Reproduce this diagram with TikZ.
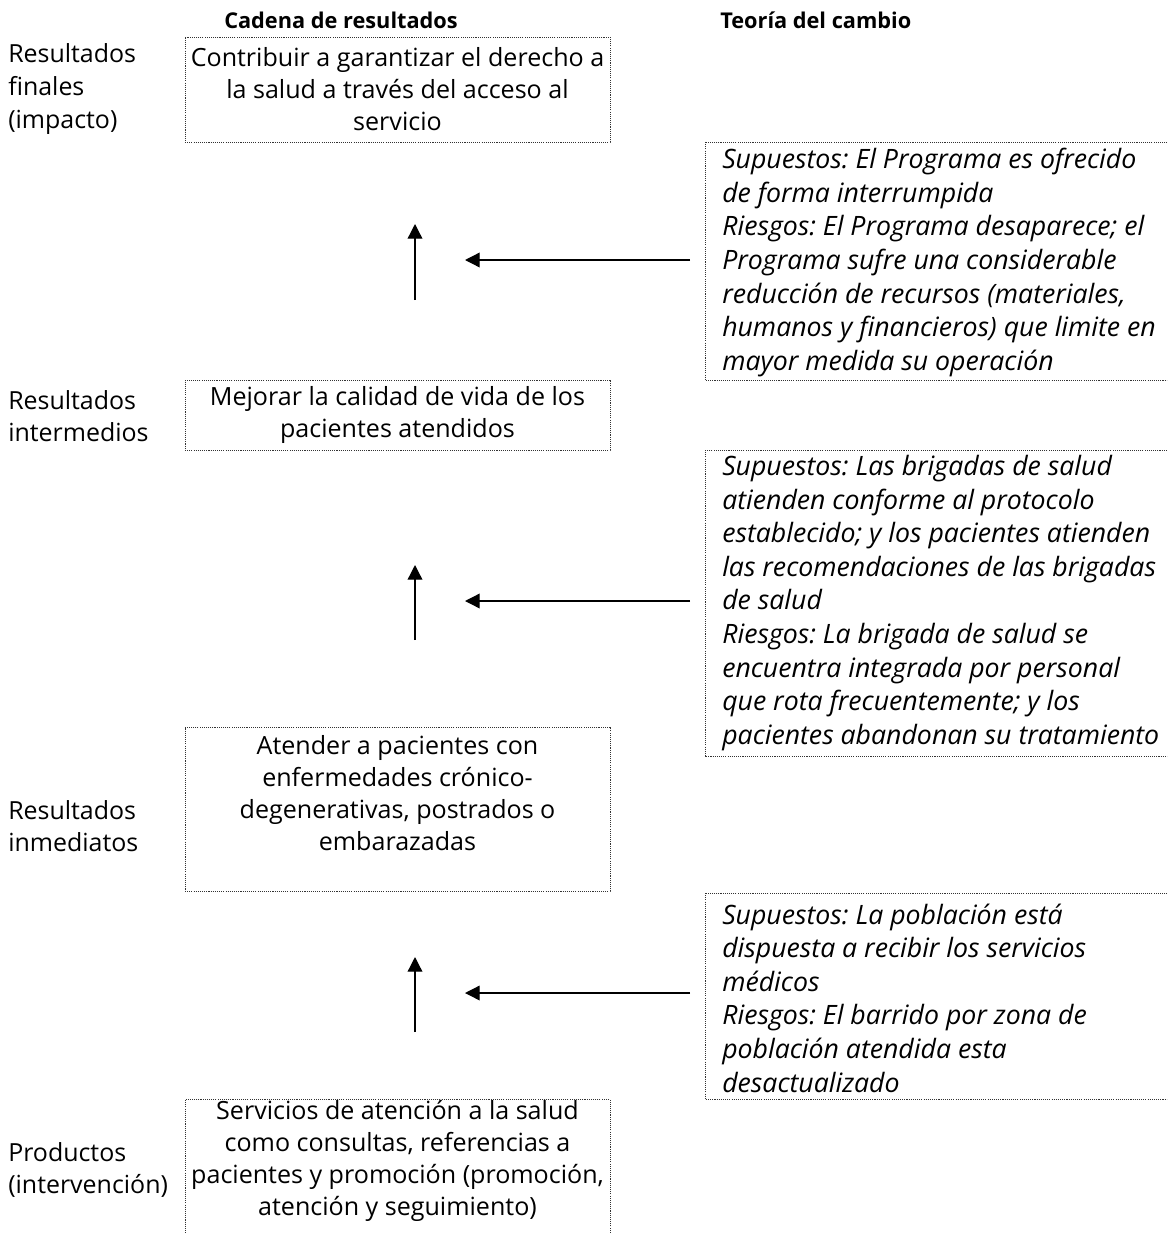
\documentclass[tikz,border=0pt]{standalone}
\usepackage{fontspec}
\setmainfont{Open Sans}
\usetikzlibrary{arrows.meta}
\tikzset{
  frame/.style={draw=black!80, line width=0.7pt, dash pattern=on 0.8pt off 0.8pt,
    inner sep=0pt, minimum width=425*0.75pt},
  chain/.style={align=center, font=\fontsize{18.8pt}{24pt}\selectfont},
  label/.style={align=left, anchor=west, inner sep=0pt,
    font=\fontsize{18.7pt}{24.5pt}\selectfont},
  theory/.style={align=left, anchor=west, inner sep=0pt,
    font=\fontsize{20pt}{25.2pt}\selectfont\itshape},
  head/.style={anchor=west, inner sep=0pt, font=\fontsize{16.3pt}{24pt}\selectfont\bfseries},
  arr/.style={line width=1pt, -{Triangle[length=11pt, width=11pt]}}
}
\frenchspacing
\begin{document}
\begin{tikzpicture}[x=0.75pt, y=-0.75pt]
\useasboundingbox (0,0) rectangle (1167,1234);
\clip (0,0) rectangle (1167,1234);

% column headings
\node[head] (h1) at (224,20) {Cadena de resultados};
\node[head] (h2) at (720,20) {Teoría del cambio};

% level labels
\node[label] (l1) at (8,89) {Resultados\\finales\\(impacto)};
\node[label] (l2) at (8,416) {Resultados\\intermedios};
\node[label] (l3) at (8,826) {Resultados\\inmediatos};
\node[label] (l4) at (8,1170) {Productos\\(intervención)};

% results chain
\node[frame, chain, minimum height=105*0.75pt] (b1) at (397.5,89.5)
  {Contribuir a garantizar el derecho a\\la salud a través del acceso al\\servicio};
\node[frame, chain, minimum height=70*0.75pt] (b2) at (397.5,415)
  {Mejorar la calidad de vida de los\\pacientes atendidos};
\node[frame, chain, minimum height=164*0.75pt] (b3) at (397.5,809)
  {Atender a pacientes con\\enfermedades crónico-\\degenerativas, postrados o\\embarazadas\\\mbox{}};
\node[frame, minimum height=150*0.75pt, anchor=north] (b4) at (397.5,1099) {};
\node[chain, inner sep=0pt] (t4) at (397.5,1161)
  {Servicios de atención a la salud\\como consultas, referencias a\\pacientes y promoción (promoción,\\atención y seguimiento)};

% theory of change boxes
\draw[frame] (705,142) rectangle (1175,380);
\node[theory] (r1) at (722,262.5)
  {Supuestos: El Programa es ofrecido\\de forma interrumpida\\Riesgos: El Programa desaparece; el\\Programa sufre una considerable\\reducción de recursos (materiales,\\humanos y financieros) que limite en\\mayor medida su operación};
\draw[frame] (705,450) rectangle (1175,756);
\node[theory] (r2) at (722,603)
  {Supuestos: Las brigadas de salud\\atienden conforme al protocolo\\establecido; y los pacientes atienden\\las recomendaciones de las brigadas\\de salud\\Riesgos: La brigada de salud se\\encuentra integrada por personal\\que rota frecuentemente; y los\\pacientes abandonan su tratamiento};
\draw[frame] (705,893) rectangle (1175,1099);
\node[theory] (r3) at (722,998)
  {Supuestos: La población está\\dispuesta a recibir los servicios\\médicos\\Riesgos: El barrido por zona de\\población atendida esta\\desactualizado};

% arrows
\coordinate (v1s) at (415,300); \coordinate (v1e) at (415,224);
\coordinate (h1s) at (690,260); \coordinate (h1e) at (465,260);
\coordinate (v2s) at (415,640); \coordinate (v2e) at (415,565);
\coordinate (h2s) at (690,601); \coordinate (h2e) at (465,601);
\coordinate (v3s) at (415,1032); \coordinate (v3e) at (415,957);
\coordinate (h3s) at (690,993); \coordinate (h3e) at (465,993);
\draw[arr] (v1s) -- (v1e);
\draw[arr] (h1s) -- (h1e);
\draw[arr] (v2s) -- (v2e);
\draw[arr] (h2s) -- (h2e);
\draw[arr] (v3s) -- (v3e);
\draw[arr] (h3s) -- (h3e);
\end{tikzpicture}
\end{document}
